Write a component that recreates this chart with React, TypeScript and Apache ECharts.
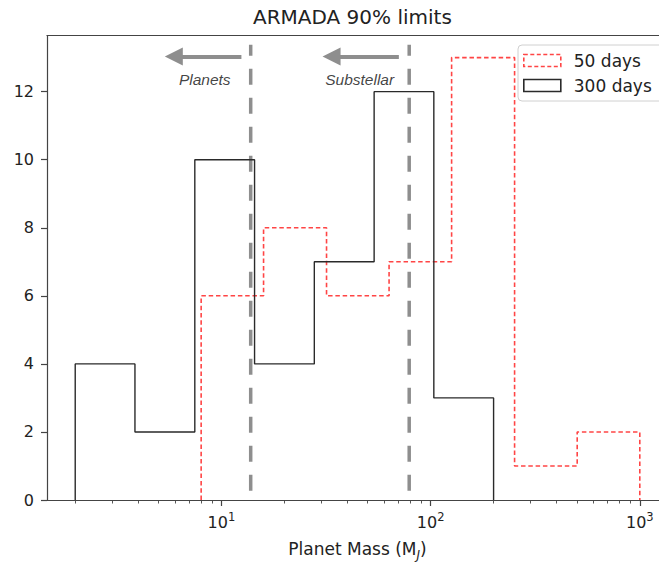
import React, { useEffect, useRef } from "react";
import * as echarts from "echarts";

// ---- Data ----
const blackEdges = [2, 3.86, 7.46, 14.4, 27.8, 53.7, 103.6, 200];
const blackCounts = [4, 2, 10, 4, 7, 12, 3];
const redEdges = [8, 15.9, 31.8, 63.3, 126, 252, 502, 1000];
const redCounts = [6, 8, 6, 7, 13, 1, 2];

const seriesNames = ["50 days", "300 days"];

const limitMasses = [13.8, 79];
const limitLabels = ["Planets", "Substellar"];
const labelX = [8.32, 45.8];
const arrowFrom = [12.46, 70.5];
const arrowTo = [5.92, 33.6];

const xMajorTicks = [10, 100, 1000];
const xMinorTicks = [
  2, 3, 4, 5, 6, 7, 8, 9,
  20, 30, 40, 50, 60, 70, 80, 90,
  200, 300, 400, 500, 600, 700, 800, 900,
];
const yTicks = [0, 2, 4, 6, 8, 10, 12];

const X_MIN = 1.466;
const X_MAX = 1364;
const Y_MAX = 13.65;

function stepOutline(edges: number[], counts: number[]) {
  const pts: number[][] = [[edges[0], 0]];
  counts.forEach((c, i) => {
    pts.push([edges[i], c]);
    pts.push([edges[i + 1], c]);
  });
  pts.push([edges[edges.length - 1], 0]);
  return pts;
}

const FONT = "DejaVu Sans";
const RED = "#ff4545";
const BLACK = "#2a2a2a";
const GREY = "#8e8e8e";
const AXIS = "#444";

export default function App() {
  const ref = useRef<HTMLDivElement>(null);

  useEffect(() => {
    if (!ref.current) return;
    const chart = echarts.init(ref.current, undefined, { renderer: "svg" });

    const limitSeries = limitMasses.map((m, i) => ({
      type: "line",
      name: "limit" + i,
      data: [
        [m, Y_MAX * 0.02],
        [m, Y_MAX * 0.98],
      ],
      symbol: "none",
      silent: true,
      z: 3,
      lineStyle: { color: GREY, width: 3.5, type: [16, 13] },
      markLine: {
        silent: true,
        symbol: ["none", "triangle"],
        symbolSize: 18,
        label: { show: false },
        lineStyle: { color: GREY, width: 4, type: "solid" },
        data: [
          [
            { coord: [arrowFrom[i], 13.03] },
            { coord: [arrowTo[i], 13.03] },
          ],
        ],
      },
    }));

    const option: any = {
      animation: false,
      backgroundColor: "#fff",
      textStyle: { fontFamily: FONT },
      title: {
        text: "ARMADA 90% limits",
        left: 248,
        top: 2,
        textStyle: {
          fontFamily: FONT,
          fontSize: 20,
          fontWeight: "normal",
          color: "#222",
        },
      },
      grid: {
        left: 47,
        top: 35.5,
        right: -9,
        bottom: 63,
        containLabel: false,
        outerBoundsMode: "none",
        show: false,
      },
      legend: {
        orient: "vertical",
        left: 518,
        top: 45,
        padding: [7, 30, 7, 5],
        itemGap: 8,
        itemWidth: 37,
        itemHeight: 12,
        backgroundColor: "rgba(255,255,255,0.85)",
        borderColor: "#d0d0d0",
        borderWidth: 1,
        borderRadius: 4,
        textStyle: {
          fontFamily: FONT,
          fontSize: 17,
          color: "#222",
          padding: [0, 0, 0, 8],
        },
        data: [
          {
            name: seriesNames[0],
            icon: "rect",
            itemStyle: {
              color: "rgba(0,0,0,0)",
              borderColor: RED,
              borderWidth: 1.6,
              borderType: [4, 2.5],
            },
          },
          {
            name: seriesNames[1],
            icon: "rect",
            itemStyle: {
              color: "rgba(0,0,0,0)",
              borderColor: BLACK,
              borderWidth: 1.6,
              borderType: "solid",
            },
          },
        ],
      },
      xAxis: [
        {
          type: "log",
          logBase: 10,
          min: X_MIN,
          max: X_MAX,
          position: "bottom",
          axisLine: { show: true, lineStyle: { color: AXIS, width: 1.2 } },
          axisTick: {
            show: true,
            length: 6,
            customValues: xMajorTicks,
            lineStyle: { color: AXIS, width: 1.2 },
          },
          splitLine: { show: false },
          minorTick: { show: false },
          axisLabel: {
            customValues: xMajorTicks,
            margin: 11,
            color: "#222",
            fontSize: 16,
            fontFamily: FONT,
            formatter: (v: number) => "10{sup|" + Math.round(Math.log10(v)) + "}",
            rich: {
              sup: {
                fontSize: 11.5,
                fontFamily: FONT,
                color: "#222",
                verticalAlign: "top",
                lineHeight: 12,
              },
            },
            lineHeight: 22,
          },
          name: "Planet Mass (M{sub|J})",
          nameLocation: "middle",
          nameGap: 37,
          nameMoveOverlap: false,
          nameTextStyle: {
            fontFamily: FONT,
            fontSize: 17,
            color: "#222",
            lineHeight: 24,
            rich: {
              sub: {
                fontFamily: FONT,
                fontSize: 12,
                fontStyle: "italic",
                color: "#222",
                verticalAlign: "bottom",
                lineHeight: 14,
              },
            },
          },
        },
        {
          type: "log",
          logBase: 10,
          min: X_MIN,
          max: X_MAX,
          position: "bottom",
          axisLine: { show: false },
          axisTick: {
            show: true,
            length: 3.5,
            customValues: xMinorTicks,
            lineStyle: { color: AXIS, width: 0.9 },
          },
          axisLabel: { show: false },
          splitLine: { show: false },
        },
        {
          type: "log",
          logBase: 10,
          min: X_MIN,
          max: X_MAX,
          position: "top",
          axisLine: { show: true, lineStyle: { color: AXIS, width: 1.2 } },
          axisTick: { show: false },
          axisLabel: { show: false },
          splitLine: { show: false },
        },
      ],
      yAxis: {
        type: "value",
        min: 0,
        max: Y_MAX,
        axisLine: { show: true, lineStyle: { color: AXIS, width: 1.2 } },
        axisTick: {
          show: true,
          length: 6,
          customValues: yTicks,
          lineStyle: { color: AXIS, width: 1.2 },
        },
        axisLabel: {
          customValues: yTicks,
          margin: 13,
          color: "#222",
          fontSize: 16,
          fontFamily: FONT,
        },
        splitLine: { show: false },
      },
      series: [
        ...limitSeries,
        {
          type: "line",
          name: seriesNames[0],
          data: stepOutline(redEdges, redCounts),
          symbol: "none",
          z: 4,
          color: RED,
          lineStyle: { color: RED, width: 1.6, type: [4.5, 2.8] },
        },
        {
          type: "line",
          name: seriesNames[1],
          data: stepOutline(blackEdges, blackCounts),
          symbol: "none",
          z: 5,
          color: BLACK,
          lineStyle: { color: BLACK, width: 1.4 },
        },
        {
          type: "scatter",
          name: "annotations",
          symbolSize: 0,
          silent: true,
          z: 6,
          data: limitLabels.map((t, i) => ({ value: [labelX[i], 12.35], name: t })),
          label: {
            show: true,
            position: "inside",
            formatter: (p: any) => p.name,
            fontFamily: "Liberation Sans",
            fontStyle: "italic",
            fontSize: 15.5,
            color: "#111",
          },
        },
      ],
    };

    chart.setOption(option);
    return () => chart.dispose();
  }, []);

  return (
    <div
      ref={ref}
      style={{ position: "absolute", left: 0, top: 0, width: 659, height: 563 }}
    />
  );
}
